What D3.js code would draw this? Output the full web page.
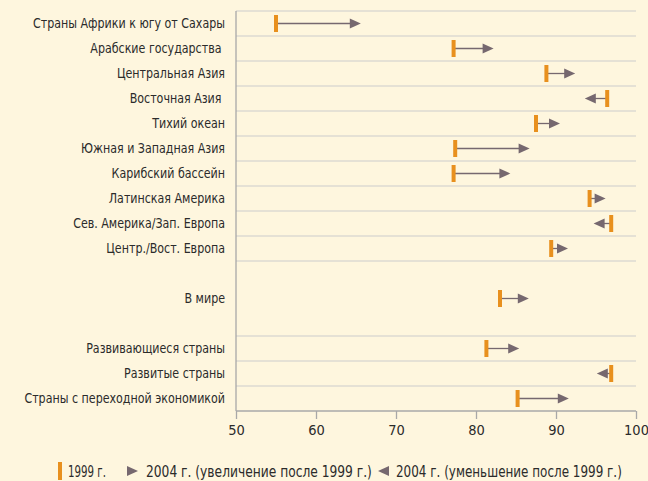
<!DOCTYPE html>
<html>
<head>
<meta charset="utf-8">
<script src="https://cdn.jsdelivr.net/npm/d3@7"></script>
<style>
  body { margin: 0; background: #fef6de; }
  svg text { font-family: "Liberation Sans Narrow", "DejaVu Sans Condensed", sans-serif; fill: #2b2b2b; white-space: pre; }
</style>
</head>
<body>
<svg id="chart"></svg>
<script>
// Chart size
const width = 648, height = 481;

// Rows (empty strings are spacer slots with no gridlines)
const regions = [
    "Страны Африки к югу от Сахары",
    "Арабские государства ",
    "Центральная Азия",
    "Восточная Азия ",
    "Тихий океан",
    "Южная и Западная Азия",
    "Карибский бассейн",
    "Латинская Америка",
    "Сев. Америка/Зап. Европа",
    "Центр./Вост. Европа",
    "",
    "В мире",
    "",
    "Развивающиеся страны",
    "Развитые страны",
    "Страны с переходной экономикой"
];
// values, null for spacer slots
const values1999 = [55.0, 77.2, 88.8, 96.4, 87.5, 77.4, 77.2, 94.2, 96.9, 89.4, null, 83.0, null, 81.3, 96.9, 85.2];
const values2004 = [65.6, 82.2, 92.4, 93.6, 90.5, 86.7, 84.3, 96.2, 94.7, 91.5, null, 86.6, null, 85.4, 95.1, 91.6];

const xTicks = [50, 60, 70, 80, 90, 100];
const legendLabels = ["1999 г.", "2004 г. (увеличение после 1999 г.)", "2004 г. (уменьшение после 1999 г.)"];

const orange = "#e8901e", arrowColor = "#76686f", gridColor = "#dcdad2", axisColor = "#a8a8a8";

const svg = d3.select("#chart")
    .attr("width", width)
    .attr("height", height);

// plot area
const margin = {left: 236, right: 12, top: 11, bottom: 70};

const x = d3.scaleLinear()
    .domain([50, 100])
    .range([margin.left, width - margin.right]);

const y = d3.scaleBand()
    .domain(d3.range(regions.length))
    .range([margin.top, height - margin.bottom]);

// horizontal gridlines around each real row
const rowIdx = d3.range(regions.length).filter(i => values1999[i] !== null);
const gridYs = [];
rowIdx.forEach(i => {
    gridYs.push(y(i));
    if (i === regions.length - 1 || values1999[i + 1] === null) gridYs.push(y(i) + y.bandwidth());
});
// world row has no lines
const worldI = regions.indexOf("В мире");
const lines = gridYs.filter((v, k, a) => a.indexOf(v) === k)
    .filter(v => !(v === y(worldI) || v === y(worldI) + y.bandwidth()));

svg.selectAll(".grid")
    .data(lines.filter(v => v < height - margin.bottom - 1))
    .enter().append("line")
    .attr("class", "grid")
    .attr("x1", x(50))
    .attr("x2", x(100))
    .attr("y1", d => d)
    .attr("y2", d => d)
    .attr("stroke", gridColor)
    .attr("stroke-width", 1.3);

// x axis
const xAxis = svg.append("g")
    .attr("transform", "translate(0," + (height - margin.bottom) + ")")
    .call(d3.axisBottom(x).tickValues(xTicks).tickSize(8).tickPadding(6));
xAxis.select(".domain").remove();
xAxis.selectAll(".tick line").attr("stroke", axisColor).attr("stroke-width", 1.3);
xAxis.selectAll(".tick text")
    .attr("font-size", "14.5px")
    .style("font-family", "'Liberation Sans Narrow', 'DejaVu Sans Condensed', sans-serif")
    .attr("fill", "#444");
xAxis.append("line")
    .attr("x1", x(50)).attr("x2", x(100))
    .attr("stroke", axisColor).attr("stroke-width", 1.3);

// vertical axis line
svg.append("line")
    .attr("x1", x(50)).attr("x2", x(50))
    .attr("y1", margin.top).attr("y2", height - margin.bottom)
    .attr("stroke", axisColor)
    .attr("stroke-width", 1.3);

// row labels (squeezed to mimic the condensed face)
svg.selectAll(".label")
    .data(rowIdx)
    .enter().append("text")
    .attr("class", "label")
    .attr("transform", i => "translate(225," + (y(i) + y.bandwidth() / 2) + ") scale(0.9,1)")
    .attr("dy", ".35em")
    .attr("text-anchor", "end")
    .attr("font-size", "13.7px")
    .text(i => regions[i]);

// triangle pointing in the direction of change, tip at (0,0)
function tri(dir) {
    return dir > 0 ? "M0,0L-11,-5L-11,5Z" : "M0,0L11,-5L11,5Z";
}

const marks = svg.selectAll(".mark")
    .data(rowIdx)
    .enter().append("g")
    .attr("class", "mark")
    .attr("transform", i => "translate(0," + (y(i) + y.bandwidth() / 2) + ")");

marks.append("line")
    .attr("x1", i => x(values1999[i]))
    .attr("x2", i => x(values2004[i]) - Math.sign(values2004[i] - values1999[i]) * 6)
    .attr("stroke", arrowColor)
    .attr("stroke-width", 1.3);

marks.append("path")
    .attr("transform", i => "translate(" + x(values2004[i]) + ",0)")
    .attr("d", i => tri(values2004[i] - values1999[i]))
    .attr("fill", arrowColor);

marks.append("rect")
    .attr("x", i => x(values1999[i]) - 2)
    .attr("y", -8.5)
    .attr("width", 4)
    .attr("height", 17)
    .attr("fill", orange);

// legend
const legend = svg.append("g").attr("transform", "translate(0,470)");
legend.append("rect").attr("x", 58).attr("y", -8).attr("width", 4).attr("height", 18).attr("fill", orange);
legend.append("path").attr("transform", "translate(138,1)").attr("d", tri(1)).attr("fill", arrowColor);
legend.append("path").attr("transform", "translate(378,1)").attr("d", tri(-1)).attr("fill", arrowColor);

const legX = [68, 146, 396], legW = [38, 226, 226];
legend.selectAll(".leg")
    .data(legendLabels)
    .enter().append("text")
    .attr("class", "leg")
    .attr("dy", ".35em")
    .attr("font-size", "15px")
    .text(d => d)
    .attr("transform", function(d, i) {
        // squeeze each entry to the width it takes in the original
        const s = legW[i] / this.getComputedTextLength();
        return "translate(" + legX[i] + ",1.5) scale(" + s + ",1)";
    });
</script>
</body>
</html>
